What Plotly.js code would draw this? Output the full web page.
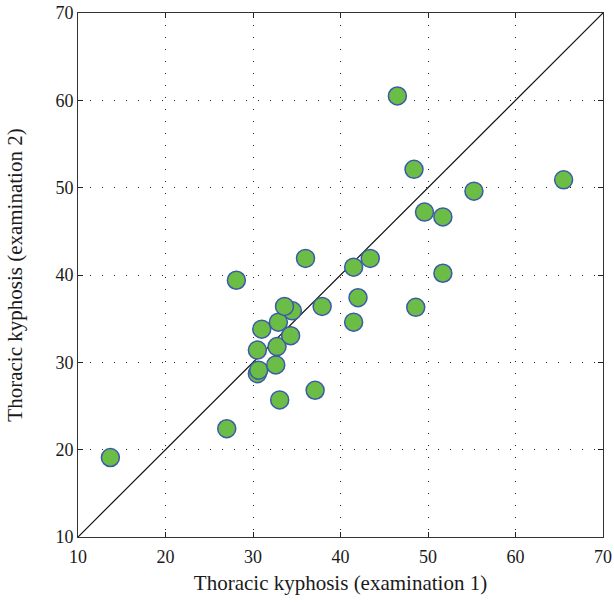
<!DOCTYPE html>
<html>
<head>
<meta charset="utf-8">
<script src="https://cdn.plot.ly/plotly-3.0.1.min.js"></script>
<style>html,body{margin:0;padding:0;background:#fff;}#chart{width:614px;height:602px;}</style>
</head>
<body>
<div id="chart"></div>
<script>
const exam1 = [13.7, 27.0, 28.1, 30.5, 30.65, 30.5, 31.0, 32.6, 32.75, 32.9, 33.05, 34.5, 33.6, 34.3, 36.0, 37.1, 37.9, 41.5, 41.5, 42.0, 43.4, 46.5, 48.4, 48.6, 49.6, 51.7, 51.7, 55.25, 65.5];
const exam2 = [19.1, 22.4, 39.4, 28.7, 29.1, 31.4, 33.8, 29.7, 31.8, 34.6, 25.7, 35.9, 36.4, 33.05, 41.9, 26.8, 36.4, 34.6, 40.9, 37.4, 41.9, 60.5, 52.1, 36.3, 47.2, 46.65, 40.2, 49.6, 50.9];
const identityLine = [10, 70];
const tickVals = [10, 20, 30, 40, 50, 60, 70];

const fam = '"Liberation Serif", "DejaVu Serif", serif';

const traces = [
  {
    x: identityLine, y: identityLine, mode: 'lines', type: 'scatter',
    line: {color: '#111', width: 1.2}, hoverinfo: 'skip', showlegend: false
  },
  {
    x: exam1, y: exam2, mode: 'markers', type: 'scatter',
    marker: {size: 18, color: '#6bbd45', line: {color: '#3b5aa8', width: 1.5}},
    showlegend: false
  }
];

const axisCommon = {
  range: [10, 70], tickvals: tickVals, ticktext: tickVals.map(String),
  ticks: 'inside', ticklen: 5, tickwidth: 1, tickcolor: '#222',
  showline: true, linecolor: '#333', linewidth: 1, mirror: 'ticks',
  showgrid: true, gridcolor: '#222', gridwidth: 1, griddash: '1px,11px',
  zeroline: false, tickfont: {family: fam, size: 18, color: '#1a1a1a'},
  automargin: false
};

const layout = {
  width: 614, height: 602,
  margin: {l: 78, r: 11, t: 13, b: 65},
  paper_bgcolor: '#fff', plot_bgcolor: '#fff',
  font: {family: fam, color: '#1a1a1a'},
  xaxis: Object.assign({}, axisCommon, {
    ticklabelstandoff: 3,
    title: {text: 'Thoracic kyphosis (examination 1)', font: {family: fam, size: 21, color: '#1a1a1a'}, standoff: 9}
  }),
  yaxis: Object.assign({}, axisCommon, {
    title: {text: 'Thoracic kyphosis (examination 2)', font: {family: fam, size: 21, color: '#1a1a1a'}, standoff: 27}
  }),
  showlegend: false
};

Plotly.newPlot('chart', traces, layout, {displayModeBar: false, staticPlot: true});
</script>
</body>
</html>
